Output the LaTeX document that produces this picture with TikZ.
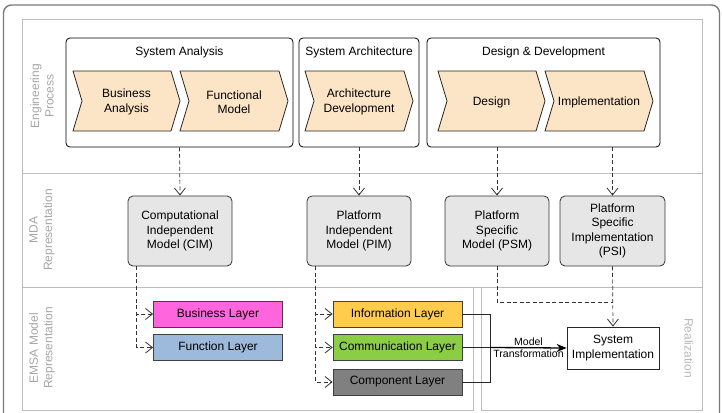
\documentclass[tikz,border=0pt]{standalone}
\usepackage{fontspec}
\setmainfont{Liberation Sans}
\usetikzlibrary{arrows.meta}
\definecolor{chevfill}{HTML}{FCE4C6}
\definecolor{mdafill}{HTML}{E6E6E6}
\definecolor{lanegray}{HTML}{BDBDBD}
\definecolor{labgray}{HTML}{A6A6A6}
\definecolor{framegray}{HTML}{7A7A7A}
\definecolor{bizpink}{HTML}{FF66DD}
\definecolor{funblue}{HTML}{9DB9DC}
\definecolor{infoyellow}{HTML}{FFCC4D}
\definecolor{commgreen}{HTML}{8CCD46}
\definecolor{compgray}{HTML}{808080}
\newcommand{\mychev}[4]{%
  \draw[chevshape] (#2,71) -- (#3-9,71) -- (#3,101) -- (#3-9,131) -- (#2,131) -- (#2+9,101) -- cycle;
  \node[align=center] (#1) at ({(#2+#3)/2},102) {#4};
}
\begin{document}
\begin{tikzpicture}[x=1pt,y=-1pt,
  font=\fontsize{12}{14.5}\selectfont,
  lane/.style={draw=lanegray, line width=0.8pt},
  lanelabel/.style={text=labgray, align=center},
  grp/.style={draw=black, rounded corners=4pt, line width=0.8pt, inner sep=0pt},
  chevshape/.style={draw=black!85, fill=chevfill, line width=0.8pt},
  mdabox/.style={draw=black!80, fill=mdafill, rounded corners=5pt, line width=0.8pt,
    align=center, minimum height=70pt, inner sep=0pt},
  layerbox/.style={draw=black!75, line width=0.8pt, minimum width=129pt,
    minimum height=26pt, inner sep=0pt},
  dasharrow/.style={draw=black!80, line width=0.7pt, dash pattern=on 4pt off 2.5pt,
    -{Straight Barb[length=7pt,width=11pt,line width=0.8pt]}},
  dashline/.style={draw=black!80, line width=0.7pt, dash pattern=on 4pt off 2.5pt},
  conn/.style={draw=black!85, line width=0.7pt},
  transarrow/.style={draw=black, line width=1.3pt, -{Stealth[length=10pt,width=8pt]}},
  smalllabel/.style={font=\fontsize{10.5}{12}\selectfont, inner sep=1.5pt}
]
\useasboundingbox (0,0) rectangle (722,412);
\clip (0,0) rectangle (722,412);
% outer frame
\draw[draw=framegray, line width=1.4pt, rounded corners=8pt] (3.5,5) rectangle (719.5,440);
% lanes
\draw[lane] (22,19) rectangle (702,173);
\draw[lane] (22,173) rectangle (702,287);
\draw[lane] (22,287) rectangle (473,410);
\draw[lane] (481,287) rectangle (702,410);
\node[lanelabel, rotate=90] (lab1) at (42,96) {Engineering\\Process};
\node[lanelabel, rotate=90] (lab2) at (42,230) {MDA\\Representation};
\node[lanelabel, rotate=90] (lab3) at (42,348) {EMSA Model\\Representation};
\node[lanelabel, rotate=-90, text=labgray!80] (lab4) at (689,348) {Realization};
% groups
\node[grp, minimum width=227pt, minimum height=109pt] (sa) at (179.5,92.5) {};
\node[grp, minimum width=120pt, minimum height=109pt] (sarch) at (359,92.5) {};
\node[grp, minimum width=233pt, minimum height=109pt] (dd) at (543.5,92.5) {};
\node (sat) at (179.5,52) {System Analysis};
\node (sarcht) at (359,52) {System Architecture};
\node (ddt) at (543.5,52) {Design \& Development};
% chevrons
\mychev{ba}{73}{180}{Business\\Analysis}
\mychev{fm}{180}{288}{Functional\\Model}
\mychev{ad}{305}{413}{Architecture\\Development}
\mychev{de}{438}{545}{Design}
\mychev{im}{545}{653}{Implementation}
% MDA boxes
\node[mdabox, minimum width=104pt] (cim) at (180,231) {Computational\\Independent\\Model (CIM)};
\node[mdabox, minimum width=104pt] (pim) at (359,231) {Platform\\Independent\\Model (PIM)};
\node[mdabox, minimum width=104pt] (psm) at (497,231) {Platform\\Specific\\Model (PSM)};
\node[mdabox, minimum width=105pt] (psi) at (612.5,231) {Platform\\Specific\\Implementation\\(PSI)};
% arrows from groups
\draw[dasharrow] (sa.south) -- (cim.north);
\draw[dasharrow] (sarch.south) -- (pim.north);
\draw[dasharrow] (dd.south -| psm.north) -- (psm.north);
\draw[dasharrow] (dd.south -| psi.north) -- (psi.north);
% layers
\node[layerbox, fill=bizpink] (biz) at (218,314) {Business Layer};
\node[layerbox, fill=funblue] (fun) at (218,347.5) {Function Layer};
\node[layerbox, fill=infoyellow] (info) at (397.5,314) {Information Layer};
\node[layerbox, fill=commgreen] (comm) at (397.5,347.5) {Communication Layer};
\node[layerbox, fill=compgray] (comp) at (397.5,382) {Component Layer};
% system implementation
\node[draw=black!85, line width=0.8pt, minimum width=92pt, minimum height=42pt,
  inner sep=0pt, align=center] (sys) at (613,348) {System\\Implementation};
% dashed branches
\draw[dasharrow] ([xshift=9pt]cim.south west) |- (biz.west);
\draw[dasharrow] ([xshift=9pt]cim.south west) |- (fun.west);
\draw[dasharrow] ([xshift=9pt]pim.south west) |- (info.west);
\draw[dasharrow] ([xshift=9pt]pim.south west) |- (comm.west);
\draw[dasharrow] ([xshift=9pt]pim.south west) |- (comp.west);
% realization links
\draw[dashline] (psm.south) |- (612.5,302) coordinate (join);
\draw[dasharrow] (psi.south) -- (sys.north);
% model transformation
\draw[conn] (info.east) -- ++(28,0) coordinate (bt) -- (bt |- comp.east) -- (comp.east);
\draw[conn] (comm.east) -- (bt |- comm.east) coordinate (bm);
\draw[transarrow] (bm) -- (sys.west)
  node[midway, above, smalllabel] (ml1) {Model}
  node[midway, below, smalllabel] (ml2) {Transformation};
\end{tikzpicture}
\end{document}
